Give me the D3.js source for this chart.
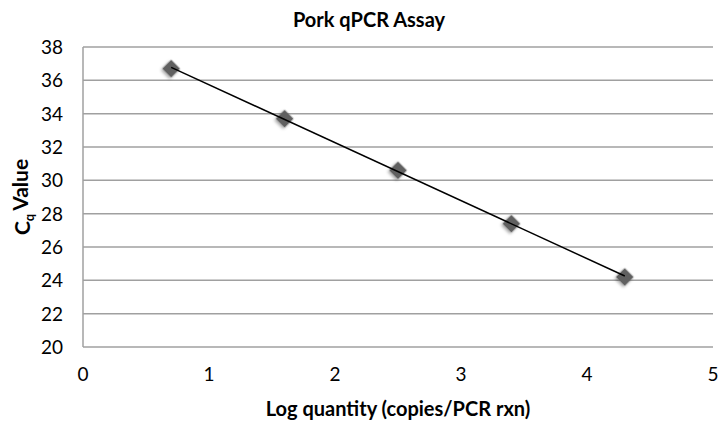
<!DOCTYPE html>
<html>
<head>
<meta charset="utf-8">
<script src="https://cdn.jsdelivr.net/npm/d3@7"></script>
<style>
  body { margin: 0; background: #fff; }
  text { font-family: Lato, "Open Sans", sans-serif; fill: #000; }
</style>
</head>
<body>
<div id="chart"></div>
<script>
// values
var log_quantity = [0.7, 1.6, 2.5, 3.4, 4.3];
var cq_values = [36.7, 33.7, 30.6, 27.4, 24.2];
var x_ticks = [0, 1, 2, 3, 4, 5];
var y_ticks = [20, 22, 24, 26, 28, 30, 32, 34, 36, 38];

var width = 722, height = 422;
var margin = { top: 47, right: 9, bottom: 75, left: 83 };

var svg = d3.select('#chart').append('svg')
    .attr('width', width)
    .attr('height', height);

var defs = svg.append('defs');
var shadow = defs.append('filter').attr('id', 'shadow')
    .attr('x', '-50%').attr('y', '-50%').attr('width', '200%').attr('height', '200%');
shadow.append('feDropShadow')
    .attr('dx', 0).attr('dy', 2).attr('stdDeviation', 1.8)
    .attr('flood-color', '#000').attr('flood-opacity', 0.35);

var x = d3.scaleLinear().domain([0, 5]).range([margin.left, width - margin.right]);
var y = d3.scaleLinear().domain([20, 38]).range([height - margin.bottom, margin.top]);

// gridlines
svg.append('g')
    .selectAll('line')
    .data(y_ticks)
    .enter().append('line')
    .attr('x1', x(0)).attr('x2', x(5))
    .attr('y1', function(d) { return y(d); })
    .attr('y2', function(d) { return y(d); })
    .attr('stroke', '#a0a0a0')
    .attr('stroke-width', 1.5);

// left axis line
svg.append('line')
    .attr('x1', x(0)).attr('x2', x(0))
    .attr('y1', y(38)).attr('y2', y(20))
    .attr('stroke', '#a0a0a0')
    .attr('stroke-width', 1.5);

// y tick labels
svg.append('g')
    .selectAll('text')
    .data(y_ticks)
    .enter().append('text')
    .attr('x', x(0) - 20)
    .attr('y', function(d) { return y(d); })
    .attr('dy', '0.36em')
    .attr('text-anchor', 'end')
    .style('font-size', '19px')
    .text(function(d) { return d; });

// x tick labels
svg.append('g')
    .selectAll('text')
    .data(x_ticks)
    .enter().append('text')
    .attr('x', function(d) { return x(d); })
    .attr('y', y(20) + 27)
    .attr('dy', '0.36em')
    .attr('text-anchor', 'middle')
    .style('font-size', '19px')
    .text(function(d) { return d; });

// linear trendline (least squares)
var n = log_quantity.length;
var mx = d3.mean(log_quantity), my = d3.mean(cq_values);
var sxy = d3.sum(log_quantity, function(v, i) { return (v - mx) * (cq_values[i] - my); });
var sxx = d3.sum(log_quantity, function(v) { return (v - mx) * (v - mx); });
var slope = sxy / sxx;
var intercept = my - slope * mx;
var x0 = log_quantity[0], x1 = log_quantity[n - 1];

// markers
var points = log_quantity.map(function(v, i) { return { x: v, y: cq_values[i] }; });
svg.append('g')
    .selectAll('path')
    .data(points)
    .enter().append('path')
    .attr('d', d3.symbol().type(d3.symbolSquare).size(160))
    .attr('transform', function(d) { return `translate(${x(d.x)},${y(d.y)}) rotate(45)`; })
    .attr('fill', '#606060')
    .attr('filter', 'url(#shadow)');

svg.append('line')
    .attr('x1', x(x0)).attr('y1', y(intercept + slope * x0))
    .attr('x2', x(x1)).attr('y2', y(intercept + slope * x1))
    .attr('stroke', '#000')
    .attr('stroke-width', 1.5);

// title
svg.append('text')
    .attr('x', 369).attr('y', 20)
    .attr('dy', '0.36em')
    .attr('text-anchor', 'middle')
    .style('font-size', '20px')
    .style('font-weight', 'bold')
    .text('Pork qPCR Assay');

// x axis title
svg.append('text')
    .attr('x', 398).attr('y', 409)
    .attr('dy', '0.36em')
    .attr('text-anchor', 'middle')
    .style('font-size', '20px')
    .style('font-weight', 'bold')
    .text('Log quantity (copies/PCR rxn)');

// y axis title with subscript
var ytitle = svg.append('text')
    .attr('transform', `translate(30, ${y(29)}) rotate(-90)`)
    .attr('text-anchor', 'middle')
    .style('font-size', '21px')
    .style('font-weight', 'bold');
ytitle.append('tspan').text('C');
ytitle.append('tspan').attr('dy', '0.3em').style('font-size', '13px').text('q');
ytitle.append('tspan').attr('dy', '-0.3em').attr('dx', '3').text('Value');
</script>
</body>
</html>
